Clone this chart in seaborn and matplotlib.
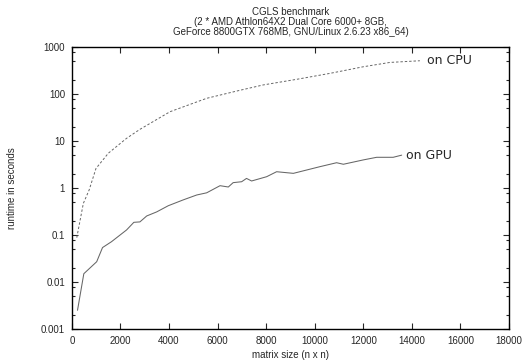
import matplotlib
matplotlib.use("Agg")
import matplotlib.pyplot as plt
import matplotlib.ticker as mticker
import seaborn as sns
import pandas as pd

# matrix size n vs runtime (s)
cpu_size = [200, 470, 710, 990, 1500, 2250, 2800, 4040, 5550, 6920, 7880, 9250,
            10630, 12000, 13100, 14330]
cpu_time = [0.088, 0.47, 0.91, 2.6, 5.5, 11.4, 17.7, 42, 81, 120, 156, 205,
            275, 380, 470, 510]

gpu_size = [230, 490, 1020, 1260, 1630, 2250, 2550, 2800, 3080, 3490, 3970, 4590,
            5140, 5550, 6100, 6440, 6640, 6990, 7190, 7400, 8020, 8430, 9120,
            10210, 10900, 11180, 12000, 12550, 13230, 13580]
gpu_time = [0.0025, 0.015, 0.027, 0.054, 0.072, 0.128, 0.186, 0.19, 0.254, 0.31,
            0.42, 0.56, 0.71, 0.79, 1.12, 1.05, 1.3, 1.36, 1.6, 1.41, 1.74, 2.22,
            2.05, 2.84, 3.45, 3.2, 3.96, 4.5, 4.5, 5.0]

x_ticks = [0, 2000, 4000, 6000, 8000, 10000, 12000, 14000, 16000, 18000]
y_ticks = [0.001, 0.01, 0.1, 1, 10, 100, 1000]
y_labels = ["0.001", "0.01", "0.1", "1", "10", "100", "1000"]

sns.set_style("ticks")
plt.rcParams["font.family"] = ["Liberation Sans", "DejaVu Sans"]

cpu = pd.DataFrame({"n": cpu_size, "t": cpu_time})
gpu = pd.DataFrame({"n": gpu_size, "t": gpu_time})

fig = plt.figure(figsize=(5.25, 3.63), dpi=100)
ax = fig.add_axes([0.137, 0.0937, 0.8325, 0.7768])

sns.lineplot(data=cpu, x="n", y="t", ax=ax, color="#666666", lw=0.7,
             linestyle=(0, (2.5, 2)))
sns.lineplot(data=gpu, x="n", y="t", ax=ax, color="#666666", lw=0.75)

ax.set_yscale("log")
ax.set_xlim(0, 18000)
ax.set_ylim(0.001, 1000)
ax.set_xticks(x_ticks)
ax.set_xticklabels([str(v) for v in x_ticks])
ax.set_yticks(y_ticks)
ax.set_yticklabels(y_labels)
ax.yaxis.set_minor_locator(mticker.LogLocator(base=10, subs=(2, 5, 8)))
ax.yaxis.set_minor_formatter(mticker.NullFormatter())
ax.xaxis.set_minor_locator(mticker.NullLocator())

ax.tick_params(which="major", direction="in", length=4, width=0.8,
               labelsize=7, top=True, right=True, pad=5)
ax.tick_params(which="minor", direction="in", length=2, width=0.8,
               top=True, right=True)
for s in ax.spines.values():
    s.set_linewidth(1.0)
    s.set_color("black")

ax.set_xlabel("matrix size (n x n)", fontsize=7, labelpad=3)
ax.set_ylabel("runtime in seconds", fontsize=7, labelpad=17)
ax.set_title("CGLS benchmark\n(2 * AMD Athlon64X2 Dual Core 6000+ 8GB,\n"
             "GeForce 8800GTX 768MB, GNU/Linux 2.6.23 x86_64)",
             fontsize=7, linespacing=1.0, pad=9)

ax.text(14620, 510, "on CPU", fontsize=9, family=["DejaVu Sans"], va="center")
ax.text(13760, 5.0, "on GPU", fontsize=9, family=["DejaVu Sans"], va="center")

fig.savefig("out.png", dpi=100)
